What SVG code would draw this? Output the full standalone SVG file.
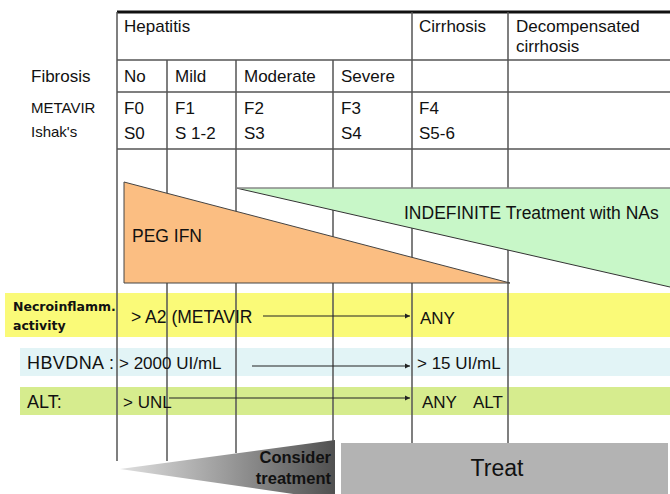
<svg xmlns="http://www.w3.org/2000/svg" width="670" height="494" viewBox="0 0 670 494">
<defs>
<style>
text{font-family:"Liberation Sans",Arial,sans-serif;fill:#111;}
.t17{font-size:17px;}
.t15{font-size:15px;}
.grid{stroke:#555;stroke-width:1.5;fill:none;}
.arrow{stroke:#222;stroke-width:1;fill:none;marker-end:url(#ah);}
</style>
<marker id="ah" markerWidth="6" markerHeight="6" refX="5" refY="3" orient="auto" markerUnits="userSpaceOnUse">
<path d="M0,0.5 L5,3 L0,5.5 Z" fill="#222"/>
</marker>
<linearGradient id="wedge" x1="120" y1="0" x2="335" y2="0" gradientUnits="userSpaceOnUse">
<stop offset="0" stop-color="#e0e0e0"/>
<stop offset="0.5" stop-color="#9a9a9a"/>
<stop offset="1" stop-color="#505050"/>
</linearGradient>
</defs>
<rect width="670" height="494" fill="#fff"/>

<g id="bands">
<rect x="5" y="293" width="665" height="44" fill="#FAFA78"/>
<rect x="20" y="348" width="650" height="28" fill="#E2F4F6"/>
<rect x="20" y="387" width="650" height="28" fill="#D6EC8E"/>
</g>

<g id="grid">
<line x1="117" y1="12" x2="670" y2="12" stroke="#111" stroke-width="3"/>
<line class="grid" x1="117" y1="60" x2="670" y2="60"/>
<line class="grid" x1="117" y1="92" x2="670" y2="92"/>
<line class="grid" x1="117" y1="149" x2="670" y2="149"/>
<line class="grid" x1="117" y1="12" x2="117" y2="461"/>
<line class="grid" x1="167" y1="60" x2="167" y2="461"/>
<line class="grid" x1="236" y1="60" x2="236" y2="453"/>
<line class="grid" x1="333" y1="60" x2="333" y2="442"/>
<line class="grid" x1="412" y1="12" x2="412" y2="443"/>
<line class="grid" x1="508" y1="12" x2="508" y2="443"/>
</g>

<g id="peg-ifn">
<polygon points="124,182 510,283 124,283" fill="#FBBE82" stroke="#444" stroke-width="1"/>
<text x="132" y="242" style="font-size:17.5px">PEG IFN</text>
</g>

<g id="indefinite">
<polygon points="236,188 670,188 670,287" fill="#C8F7C8"/>
<line x1="236" y1="188" x2="670" y2="287" stroke="#333" stroke-width="1"/>
<line x1="236" y1="188" x2="670" y2="188" stroke="#888" stroke-width="1.5"/>
<text x="404" y="219" style="font-size:17.5px">INDEFINITE Treatment with NAs</text>
</g>

<g id="headers">
<text class="t17" x="124" y="32">Hepatitis</text>
<text class="t17" x="419" y="32">Cirrhosis</text>
<text class="t17" x="516" y="32">Decompensated</text>
<text class="t17" x="516" y="52">cirrhosis</text>
<text class="t17" x="31" y="82">Fibrosis</text>
<text class="t17" x="124" y="82">No</text>
<text class="t17" x="175" y="82">Mild</text>
<text class="t17" x="244" y="82">Moderate</text>
<text class="t17" x="341" y="82">Severe</text>
<text class="t15" x="31" y="113">METAVIR</text>
<text class="t15" x="31" y="137">Ishak's</text>
<text class="t17" x="124" y="114">F0</text>
<text class="t17" x="124" y="139">S0</text>
<text class="t17" x="175" y="114">F1</text>
<text class="t17" x="175" y="139">S 1-2</text>
<text class="t17" x="244" y="114">F2</text>
<text class="t17" x="244" y="139">S3</text>
<text class="t17" x="341" y="114">F3</text>
<text class="t17" x="341" y="139">S4</text>
<text class="t17" x="419" y="114">F4</text>
<text class="t17" x="419" y="139">S5-6</text>
</g>

<g id="necro">
<text x="13" y="311" style="font-family:'DejaVu Sans',Verdana,sans-serif;font-size:12.5px;font-weight:bold">Necroinflamm.</text>
<text x="13" y="330" style="font-family:'DejaVu Sans',Verdana,sans-serif;font-size:12.5px;font-weight:bold">activity</text>
<text x="131" y="323" style="font-size:17.5px">&gt; A2 (METAVIR</text>
<text class="t17" x="420" y="324">ANY</text>
</g>

<g id="hbvdna">
<text x="27" y="369" style="font-size:18px" textLength="87">HBVDNA :</text>
<text class="t17" x="119" y="369">&gt; 2000 UI/mL</text>
<text class="t17" x="417" y="369">&gt; 15 UI/mL</text>
</g>

<g id="alt">
<text x="27" y="408" style="font-size:18px">ALT:</text>
<text class="t17" x="123" y="408">&gt; UNL</text>
<text class="t17" x="422" y="408">ANY</text>
<text class="t17" x="473" y="408">ALT</text>
</g>

<g id="connectors">
<line class="arrow" x1="263" y1="316" x2="410" y2="316"/>
<line class="arrow" x1="252" y1="366" x2="410" y2="366"/>
<line class="arrow" x1="169" y1="398" x2="410" y2="398"/>
</g>

<g id="consider">
<polygon points="120,469 335,440 335,500" fill="url(#wedge)"/>
<text x="331" y="463" text-anchor="end" style="font-size:16.5px;font-weight:bold">Consider</text>
<text x="331" y="484" text-anchor="end" style="font-size:16.5px;font-weight:bold">treatment</text>
</g>

<g id="treat">
<rect x="341" y="443" width="327" height="52" fill="#B3B3B3"/>
<text x="497" y="476" text-anchor="middle" style="font-size:23px">Treat</text>
</g>
</svg>
